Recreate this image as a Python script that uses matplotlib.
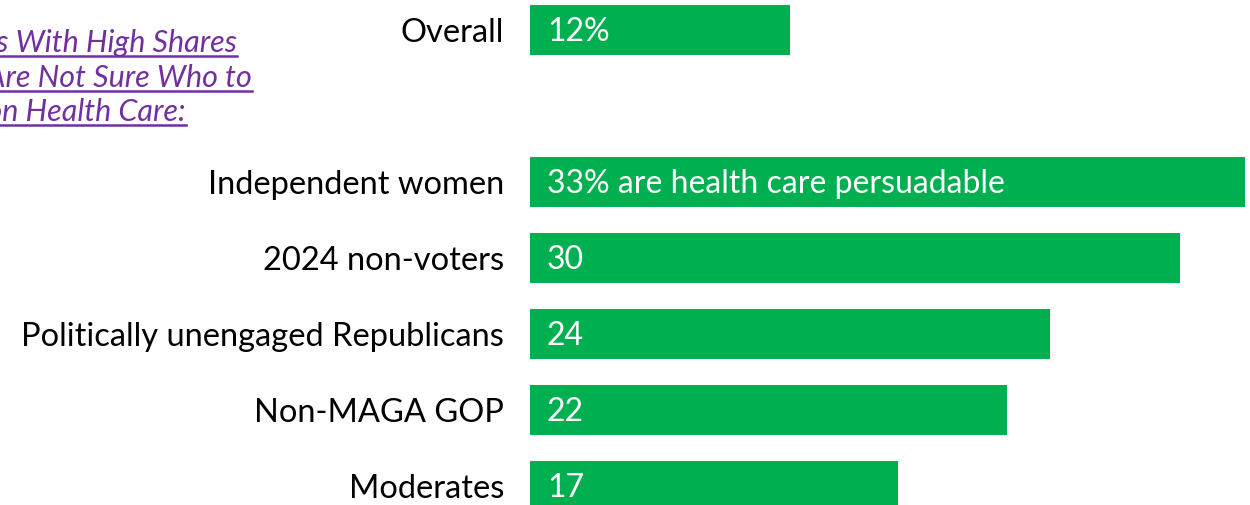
import matplotlib
matplotlib.use("Agg")
import matplotlib.pyplot as plt
from matplotlib.lines import Line2D

plt.rcParams['font.family'] = ['Lato', 'DejaVu Sans']

categories = ["Overall", "Independent women", "2024 non-voters",
              "Politically unengaged Republicans", "Non-MAGA GOP", "Moderates"]
values = [12, 33, 30, 24, 22, 17]
value_labels = ["12%", "33% are health care persuadable", "30", "24", "22", "17"]
slots = [0, 2, 3, 4, 5, 6]

title_lines = ["Groups With High Shares", "Who Are Not Sure Who to", "Trust on Health Care:"]

green = "#00B050"
purple = "#7030A0"

W, H = 1250, 505
fig = plt.figure(figsize=(W / 100, H / 100), dpi=100)
px_per_unit = 715 / 33
ax = fig.add_axes([530 / W, 0, (W - 530) / W, 1])
ax.barh(slots, values, height=50 / 76, color=green, left=0)
ax.set_xlim(0, (W - 530) / px_per_unit)
ax.set_ylim((H - 30) / 76, -30 / 76)
ax.set_yticks(slots)
ax.set_yticklabels(categories, fontsize=23.5, color="black")
ax.tick_params(axis="y", length=0, pad=18.5)
for lbl in ax.get_yticklabels():
    lbl.set_y(lbl.get_position()[1])
ax.set_xticks([])
for s in ax.spines.values():
    s.set_visible(False)

for y, lab in zip(slots, value_labels):
    ax.annotate(lab, (0, y), xytext=(17, -2), textcoords="offset pixels",
                ha="left", va="center", color="white", fontsize=23)

# title block, clipped at the left edge of the picture
right_edges = [237, 252, 186]
baselines = [52, 87, 121]
fig.canvas.draw()
renderer = fig.canvas.get_renderer()
for txt, xr, yb in zip(title_lines, right_edges, baselines):
    t = fig.text(xr / W, 1 - yb / H, txt, ha="right", va="baseline",
                 color=purple, fontsize=22, style="italic")
    bb = t.get_window_extent(renderer)
    yl = (H - yb - 4) / H
    fig.add_artist(Line2D([bb.x0 / W, bb.x1 / W], [yl, yl], color=purple,
                          lw=1.8, transform=fig.transFigure))

fig.savefig("out.png", dpi=100)
